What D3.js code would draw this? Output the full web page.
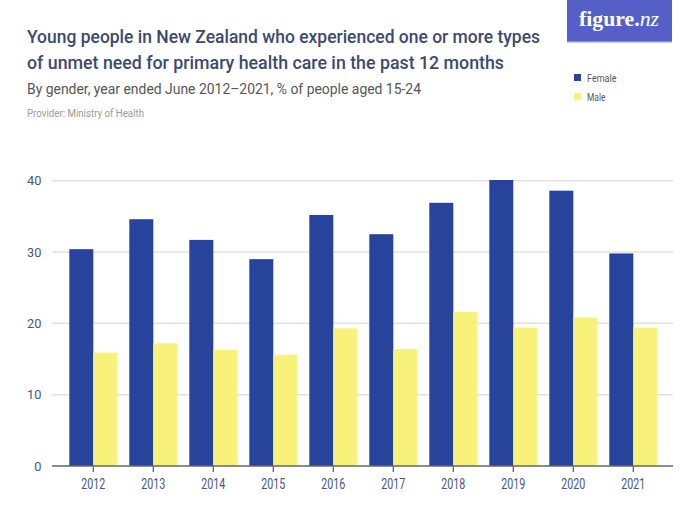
<!DOCTYPE html>
<html><head><meta charset="utf-8">
<script src="https://cdn.jsdelivr.net/npm/d3@7"></script>
<style>
body{margin:0;background:#fff;}
text{font-family:Roboto,"Noto Sans",sans-serif;}
</style></head>
<body><svg id="c" width="700" height="525"></svg>
<script>
const years = ["2012","2013","2014","2015","2016","2017","2018","2019","2020","2021"];
const female = [30.4,34.6,31.7,29.0,35.2,32.5,36.9,40.1,38.6,29.8];
const male = [15.9,17.2,16.3,15.6,19.3,16.4,21.6,19.4,20.8,19.4];
const yTicks = [0,10,20,30,40];
const seriesNames = ["Female","Male"];
const colors = ["#27439c","#f9f27a"];

const svg = d3.select("#c");
svg.append("rect").attr("width",700).attr("height",525).attr("fill","#fff");

function fit(sel, w){ sel.attr("textLength",w).attr("lengthAdjust","spacingAndGlyphs"); return sel; }

// logo
svg.append("rect").attr("x",567).attr("y",0).attr("width",105).attr("height",42).attr("fill","#5460c8");
svg.append("rect").attr("x",567).attr("y",41).attr("width",105).attr("height",1.5).attr("fill","#8e95dc");
const logo = svg.append("text").attr("x",579).attr("y",26)
  .attr("fill","#fff").style("font-family","'Liberation Serif','DejaVu Serif',serif")
  .style("font-weight","bold").style("font-size","22px");
logo.append("tspan").text("figure.");
logo.append("tspan").style("font-style","italic").style("font-weight","normal").text("nz");
fit(logo,80);

// titles
const titleLines = ["Young people in New Zealand who experienced one or more types","of unmet need for primary health care in the past 12 months"];
const titleW = [513,477];
svg.selectAll("text.title").data(titleLines).enter().append("text").attr("class","title")
  .attr("x",27).attr("y",(d,i)=>42.5+i*26).attr("fill","#3c4a6e")
  .style("font-size","17.5px").style("font-weight","500").text(d=>d)
  .attr("textLength",(d,i)=>titleW[i]).attr("lengthAdjust","spacingAndGlyphs");
fit(svg.append("text").attr("x",27).attr("y",93.5).attr("fill","#555")
  .style("font-size","14.5px").text("By gender, year ended June 2012\u20132021, % of people aged 15-24"),394);
fit(svg.append("text").attr("x",27).attr("y",117.3).attr("fill","#9a9a9a")
  .style("font-size","10.5px").text("Provider: Ministry of Health"),117);

// legend
const legW = [29.5,18.5];
const lg = svg.selectAll("g.lg").data(seriesNames).enter().append("g").attr("class","lg")
  .attr("transform",(d,i)=>`translate(574,${74+i*19})`);
lg.append("rect").attr("width",7).attr("height",7).attr("fill",(d,i)=>colors[i]);
lg.append("text").attr("x",13).attr("y",7.5).attr("fill","#555").style("font-size","11px").text(d=>d)
  .attr("textLength",(d,i)=>legW[i]).attr("lengthAdjust","spacingAndGlyphs");

// scales
const y = d3.scaleLinear().domain([0,40]).range([466,180.7]);
const x = d3.scaleBand().domain(years).range([63.3,663.3]).paddingInner(0.2).paddingOuter(0.1);
const x1 = d3.scaleBand().domain(seriesNames).range([0,x.bandwidth()]);

// grid
svg.selectAll("line.grid").data(yTicks.filter(t=>t>0)).enter().append("line")
  .attr("x1",52).attr("x2",673).attr("y1",d=>y(d)).attr("y2",d=>y(d))
  .attr("stroke","#e2e2e2").attr("stroke-width",1.5);

// y labels
svg.selectAll("text.yl").data(yTicks).enter().append("text")
  .attr("x",41.5).attr("y",d=>y(d)+4.5).attr("text-anchor","end")
  .attr("fill","#4b5676").style("font-size","13px").text(d=>d)
  .attr("textLength",d=>String(d).length*7.2).attr("lengthAdjust","spacingAndGlyphs");

// bars
const data = years.map((yr,i)=>({yr, vals:[female[i],male[i]]}));
const g = svg.selectAll("g.grp").data(data).enter().append("g")
  .attr("transform",d=>`translate(${x(d.yr)},0)`);
g.selectAll("rect").data(d=>d.vals.map((v,j)=>({v,s:seriesNames[j],j}))).enter().append("rect")
  .attr("x",d=>x1(d.s)).attr("width",x1.bandwidth())
  .attr("y",d=>y(d.v)).attr("height",d=>y(0)-y(d.v)).attr("fill",d=>colors[d.j]);

// x axis
const xa = svg.append("g").attr("transform","translate(0,466)")
  .call(d3.axisBottom(x).tickSize(6).tickPadding(0));
xa.select(".domain").remove();
xa.selectAll(".tick line").attr("stroke","#666").attr("stroke-width",1.3);
xa.selectAll(".tick text").attr("fill","#4b5676").style("font-size","14px")
  .attr("dy",null).attr("y",23)
  .style("font-family","Roboto,'Noto Sans',sans-serif")
  .attr("textLength",24).attr("lengthAdjust","spacingAndGlyphs");
svg.append("line").attr("x1",52).attr("x2",673).attr("y1",466).attr("y2",466)
  .attr("stroke","#666").attr("stroke-width",1.5);
</script></body></html>
